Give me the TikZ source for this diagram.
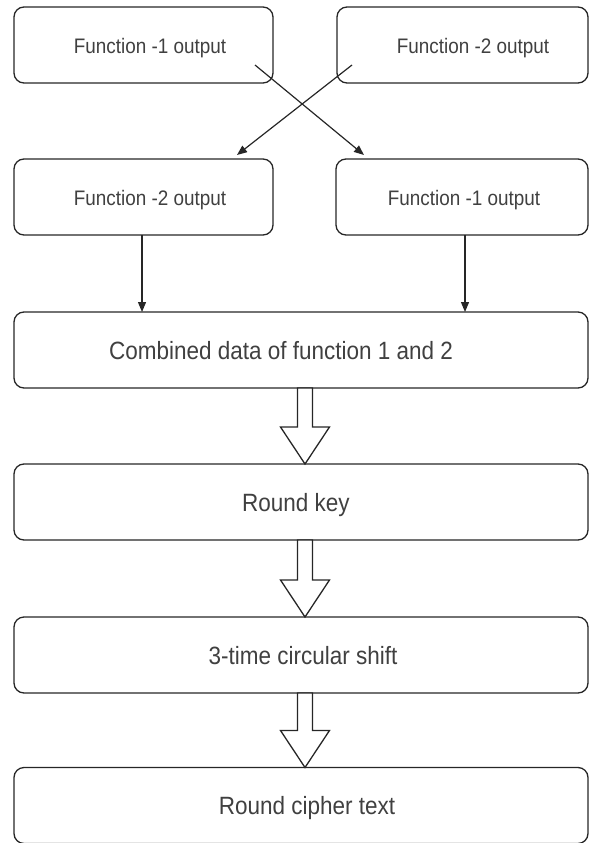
\documentclass[tikz,border=0pt]{standalone}
\usepackage{fontspec}
\setmainfont{Liberation Sans}[FakeStretch=0.9]
\usetikzlibrary{calc,arrows.meta}

% hollow block arrow between two stacked boxes: #1 start, #2 tip
\newcommand{\blockarrow}[2]{%
  \draw[fatarr] ($(#1)+(-7.5,0)$) -- ($(#1)+(7.5,0)$) -- ($(#2)+(7.5,-37)$)
    -- ($(#2)+(24.5,-37)$) -- (#2) -- ($(#2)+(-24.5,-37)$)
    -- ($(#2)+(-7.5,-37)$) -- cycle;}

\begin{document}
\begin{tikzpicture}[x=1pt,y=-1pt,
  box/.style={draw=black!85, line width=1.3pt, rounded corners=10pt,
    inner sep=0pt, outer sep=0pt, minimum height=76pt},
  small/.style={anchor=base, text=black!75, inner sep=0pt,
    font=\fontsize{21}{25}\selectfont},
  large/.style={anchor=base, text=black!75, inner sep=0pt,
    font=\fontsize{25}{30}\selectfont},
  link/.style={draw=black!85, line width=1.2pt,
    -{Triangle[length=10pt,width=8pt]}},
  fatarr/.style={draw=black!85, line width=1.3pt, fill=white,
    line join=miter}]
\useasboundingbox (0,0) rectangle (589,843);

% boxes
\node[box, minimum width=259pt] (a1) at (143.5,45) {};
\node[box, minimum width=251pt] (a2) at (462.5,45) {};
\node[box, minimum width=259pt] (b1) at (143.5,197) {};
\node[box, minimum width=252pt] (b2) at (462,197) {};
\node[box, minimum width=574pt] (c) at (301,350) {};
\node[box, minimum width=574pt] (d) at (301,502) {};
\node[box, minimum width=574pt] (e) at (301,655) {};
\node[box, minimum width=574pt] (f) at (301,805.5) {};

% labels
\node[small] (ta1) at (150,53) {Function -1 output};
\node[small] (ta2) at (473,53) {Function -2 output};
\node[small] (tb1) at (150,205) {Function -2 output};
\node[small] (tb2) at (464,205) {Function -1 output};
\node[large] (tc) at (281,359) {Combined data of function 1 and 2};
\node[large] (td) at (296,511) {Round key};
\node[large] (te) at (303,664) {3-time circular shift};
\node[large] (tf) at (307,814) {Round cipher text};

% crossing swap arrows
\coordinate (p1) at (255,65);
\coordinate (q1) at (364,155);
\coordinate (p2) at (352,65);
\coordinate (q2) at (237,155);
\draw[link] (p1) -- (q1);
\draw[link] (p2) -- (q2);

% merge arrows
\coordinate (v1) at (142,0);
\coordinate (v2) at (465,0);
\draw[link] (b1.south -| v1) -- (c.north -| v1);
\draw[link] (b2.south -| v2) -- (c.north -| v2);

% block arrows down the chain
\coordinate (fx) at (305,0);
\coordinate (s1) at (c.south -| fx);
\coordinate (e1) at (d.north -| fx);
\coordinate (s2) at (d.south -| fx);
\coordinate (e2) at (e.north -| fx);
\coordinate (s3) at (e.south -| fx);
\coordinate (e3) at (f.north -| fx);
\blockarrow{s1}{e1}
\blockarrow{s2}{e2}
\blockarrow{s3}{e3}
\end{tikzpicture}
\end{document}
